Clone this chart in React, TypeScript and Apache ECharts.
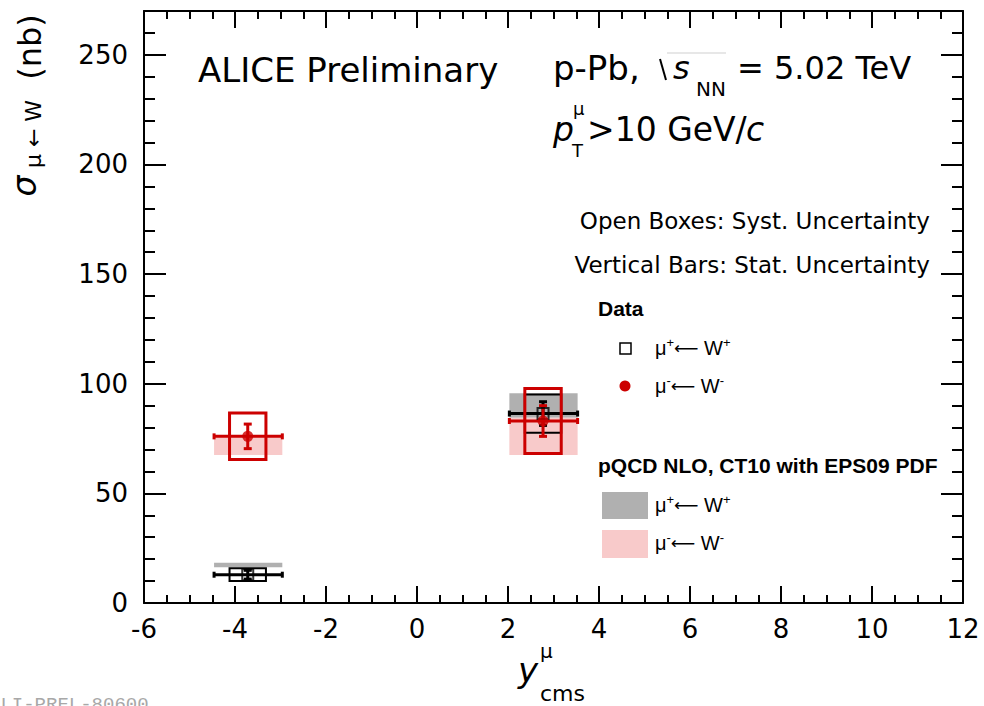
import React, { useEffect, useRef } from "react";
import * as echarts from "echarts";

// ---- data ----
const pointX = [-3.72, 2.77];
const binLow = [-4.46, 2.03];
const binHigh = [-2.96, 3.53];
const muPlusValue = [12.9, 86.4];
const muPlusStat = [2.0, 5.4];
const muPlusSyst = [2.9, 8.7];
const muMinusValue = [76.0, 83.0];
const muMinusStat = [5.6, 7.0];
const muMinusSyst = [10.6, 14.8];
const theoryPlusLow = [16.3, 84.5];
const theoryPlusHigh = [18.4, 95.7];
const theoryMinusLow = [67.5, 67.5];
const theoryMinusHigh = [76.0, 84.5];
const systHalfWidth = [0.4, 0.4];

const X_MIN = -6;
const X_MAX = 12;
const X_STEP = 2;
const Y_MIN = 0;
const Y_MAX = 270;
const Y_STEP = 50;
const Y_MINOR_STEP = 10;

const RED = "#cc0000";
const GRAY_BAND = "#b0b0b0";
const PINK_BAND = "#f8caca";
const MAIN_FONT = "DejaVu Sans";
const LEG_FONT = "Liberation Sans";

const bandRender = (color: string) => (params: any, api: any) => {
  const x0 = api.value(0), x1 = api.value(1), y0 = api.value(2), y1 = api.value(3);
  const p0 = api.coord([x0, y1]);
  const p1 = api.coord([x1, y0]);
  return {
    type: "rect",
    shape: { x: p0[0], y: p0[1], width: p1[0] - p0[0], height: p1[1] - p0[1] },
    style: { fill: color },
  };
};

const boxRender = (color: string, lw: number) => (params: any, api: any) => {
  const x = api.value(0), y = api.value(1), s = api.value(2), hw = api.value(3);
  const p0 = api.coord([x - hw, y + s]);
  const p1 = api.coord([x + hw, y - s]);
  return {
    type: "rect",
    shape: { x: p0[0], y: p0[1], width: p1[0] - p0[0], height: p1[1] - p0[1] },
    style: { fill: "none", stroke: color, lineWidth: lw },
  };
};

const errRender = (color: string) => (params: any, api: any) => {
  const x = api.value(0), y = api.value(1), xl = api.value(2), xh = api.value(3), s = api.value(4);
  const l = api.coord([xl, y]);
  const h = api.coord([xh, y]);
  const t = api.coord([x, y + s]);
  const b = api.coord([x, y - s]);
  const st = { stroke: color, lineWidth: 3 };
  const line = (x1: number, y1: number, x2: number, y2: number) => ({
    type: "line",
    shape: { x1, y1, x2, y2 },
    style: st,
  });
  return {
    type: "group",
    children: [
      line(l[0], l[1], h[0], h[1]),
      line(l[0], l[1] - 3, l[0], l[1] + 3),
      line(h[0], h[1] - 3, h[0], h[1] + 3),
      line(t[0], t[1], b[0], b[1]),
      line(t[0] - 4, t[1], t[0] + 4, t[1]),
      line(b[0] - 4, b[1], b[0] + 4, b[1]),
    ],
  };
};

const axisCommon = {
  type: "value" as const,
  axisLine: { show: true, onZero: false, lineStyle: { color: "#000", width: 2 } },
  splitLine: { show: false },
  minorSplitLine: { show: false },
};

function buildOption() {
  const bandPlus = pointX.map((_, i) => [binLow[i], binHigh[i], theoryPlusLow[i], theoryPlusHigh[i]]);
  const bandMinus = pointX.map((_, i) => [binLow[i], binHigh[i], theoryMinusLow[i], theoryMinusHigh[i]]);
  const boxPlus = pointX.map((x, i) => [x, muPlusValue[i], muPlusSyst[i], systHalfWidth[i]]);
  const boxMinus = pointX.map((x, i) => [x, muMinusValue[i], muMinusSyst[i], systHalfWidth[i]]);
  const errPlus = pointX.map((x, i) => [x, muPlusValue[i], binLow[i], binHigh[i], muPlusStat[i]]);
  const errMinus = pointX.map((x, i) => [x, muMinusValue[i], binLow[i], binHigh[i], muMinusStat[i]]);

  const xTickCfg = {
    axisTick: { show: true, inside: true, length: 17, lineStyle: { color: "#000", width: 2 } },
    minorTick: { show: true, splitNumber: 4, length: 8, lineStyle: { color: "#000", width: 2 } },
  };
  const yMajorTick = { show: true, inside: true, length: 22, lineStyle: { color: "#000", width: 2 } };
  const yMinorTick = { show: true, inside: true, length: 11, lineStyle: { color: "#000", width: 2 } };

  const txt = (
    text: string,
    x: number,
    y: number,
    size: number,
    extra: any = {}
  ) => ({
    type: "text",
    x,
    y,
    style: {
      text,
      fontSize: size,
      fontFamily: MAIN_FONT,
      fill: "#000",
      textVerticalAlign: "middle",
      textAlign: "left",
      ...extra,
    },
  });

  const legRich = {
    m: { fontSize: 20, fontFamily: LEG_FONT, lineHeight: 24, verticalAlign: "middle", fill: "#000" },
    a: { fontSize: 17, fontFamily: MAIN_FONT, lineHeight: 24, verticalAlign: "middle", fill: "#000" },
    s: { fontSize: 13, fontFamily: LEG_FONT, lineHeight: 13, verticalAlign: "top", fill: "#000" },
  };
  const legTxt = (text: string, y: number) => ({
    type: "text",
    x: 655,
    y,
    style: { text, rich: legRich, textVerticalAlign: "middle", textAlign: "left" },
  });

  return {
    animation: false,
    backgroundColor: "#fff",
    grid: { left: 144, right: 21, top: 11, bottom: 103, containLabel: false },
    xAxis: [
      {
        ...axisCommon,
        position: "bottom",
        min: X_MIN,
        max: X_MAX,
        interval: X_STEP,
        ...xTickCfg,
        axisLabel: { show: true, color: "#000", fontSize: 26, fontFamily: MAIN_FONT, margin: 13 },
      },
      {
        ...axisCommon,
        position: "top",
        min: X_MIN,
        max: X_MAX,
        interval: X_STEP,
        ...xTickCfg,
        axisLabel: { show: false },
      },
    ],
    yAxis: [
      {
        ...axisCommon,
        position: "left",
        min: Y_MIN,
        max: Y_MAX,
        interval: Y_STEP,
        axisTick: yMajorTick,
        axisLabel: {
          show: true,
          color: "#000",
          fontSize: 26,
          fontFamily: MAIN_FONT,
          margin: 16,
          showMaxLabel: false,
        },
      },
      {
        ...axisCommon,
        position: "left",
        min: Y_MIN,
        max: Y_MAX,
        interval: Y_MINOR_STEP,
        axisLine: { show: false, onZero: false },
        axisTick: yMinorTick,
        axisLabel: { show: false },
      },
      {
        ...axisCommon,
        position: "right",
        min: Y_MIN,
        max: Y_MAX,
        interval: Y_STEP,
        axisTick: yMajorTick,
        axisLabel: { show: false },
      },
      {
        ...axisCommon,
        position: "right",
        min: Y_MIN,
        max: Y_MAX,
        interval: Y_MINOR_STEP,
        axisLine: { show: false, onZero: false },
        axisTick: yMinorTick,
        axisLabel: { show: false },
      },
    ],
    series: [
      {
        type: "custom",
        name: "theory mu+",
        renderItem: bandRender(GRAY_BAND),
        data: bandPlus,
        encode: { x: [0, 1], y: [2, 3] },
        z: 1,
        silent: true,
      },
      {
        type: "custom",
        name: "theory mu-",
        renderItem: bandRender(PINK_BAND),
        data: bandMinus,
        encode: { x: [0, 1], y: [2, 3] },
        z: 2,
        silent: true,
      },
      {
        type: "custom",
        name: "syst mu+",
        renderItem: boxRender("#000", 2),
        data: boxPlus,
        encode: { x: 0, y: 1 },
        z: 3,
        silent: true,
      },
      {
        type: "custom",
        name: "stat mu+",
        renderItem: errRender("#000"),
        data: errPlus,
        encode: { x: 0, y: 1 },
        z: 4,
        silent: true,
      },
      {
        type: "custom",
        name: "syst mu-",
        renderItem: boxRender(RED, 3),
        data: boxMinus,
        encode: { x: 0, y: 1 },
        z: 5,
        silent: true,
      },
      {
        type: "custom",
        name: "stat mu-",
        renderItem: errRender(RED),
        data: errMinus,
        encode: { x: 0, y: 1 },
        z: 6,
        silent: true,
      },
      {
        type: "scatter",
        name: "mu+ <- W+",
        data: pointX.map((x, i) => [x, muPlusValue[i]]),
        symbol: "rect",
        symbolSize: 11,
        itemStyle: { color: "rgba(0,0,0,0)", borderColor: "#000", borderWidth: 2 },
        z: 7,
        silent: true,
      },
      {
        type: "scatter",
        name: "mu- <- W-",
        data: pointX.map((x, i) => [x, muMinusValue[i]]),
        symbol: "circle",
        symbolSize: 11,
        itemStyle: { color: RED },
        z: 8,
        silent: true,
      },
    ],
    graphic: [
      // header texts
      txt("ALICE Preliminary", 198, 70, 34),
      txt("p-Pb,", 553, 68, 34),
      { type: "polyline", shape: { points: [[660, 59], [666, 80]] }, style: { stroke: "#000", lineWidth: 2, fill: "none" } },
      { type: "line", shape: { x1: 667, y1: 53, x2: 726, y2: 53 }, style: { stroke: "#cfcfcf", lineWidth: 1 } },
      txt("s", 673, 68, 32, { fontStyle: "italic" }),
      txt("NN", 696, 89, 20),
      txt("= 5.02 TeV", 737, 68, 32),
      txt("p", 553, 129, 33, { fontStyle: "italic" }),
      txt("μ", 573, 108, 18),
      txt("T", 572, 150, 18),
      txt(">10 GeV/", 587, 129, 33),
      txt("c", 746, 129, 33, { fontStyle: "italic" }),
      txt("Open Boxes: Syst. Uncertainty", 930, 221, 23, { textAlign: "right" }),
      txt("Vertical Bars: Stat. Uncertainty", 930, 265, 23, { textAlign: "right" }),
      // legend
      txt("Data", 598, 308, 21, { fontFamily: LEG_FONT, fontWeight: "bold" }),
      {
        type: "rect",
        shape: { x: 620, y: 343, width: 11, height: 11 },
        style: { fill: "none", stroke: "#000", lineWidth: 1.5 },
      },
      legTxt("{m|μ}{s|+}{a|⟵}{m| W}{s|+}", 348),
      { type: "circle", shape: { cx: 625, cy: 386, r: 5.5 }, style: { fill: RED } },
      legTxt("{m|μ}{s|-}{a|⟵}{m| W}{s|-}", 386),
      txt("pQCD NLO, CT10 with EPS09 PDF", 598, 465, 21, { fontFamily: LEG_FONT, fontWeight: "bold" }),
      { type: "rect", shape: { x: 602, y: 492, width: 46, height: 27 }, style: { fill: GRAY_BAND } },
      legTxt("{m|μ}{s|+}{a|⟵}{m| W}{s|+}", 505),
      { type: "rect", shape: { x: 602, y: 530, width: 46, height: 28 }, style: { fill: PINK_BAND } },
      legTxt("{m|μ}{s|-}{a|⟵}{m| W}{s|-}", 543),
      // y axis title (rotated)
      {
        type: "text",
        x: 24,
        y: 186,
        rotation: Math.PI / 2,
        style: { text: "σ", fontSize: 33, fontStyle: "italic", fontFamily: MAIN_FONT, fill: "#000", textAlign: "center", textVerticalAlign: "middle" },
      },
      {
        type: "text",
        x: 33,
        y: 134,
        rotation: Math.PI / 2,
        style: { text: "μ ← W", fontSize: 22, fontFamily: MAIN_FONT, fill: "#000", textAlign: "center", textVerticalAlign: "middle" },
      },
      {
        type: "text",
        x: 30,
        y: 47,
        rotation: Math.PI / 2,
        style: { text: "(nb)", fontSize: 32, fontFamily: MAIN_FONT, fill: "#000", textAlign: "center", textVerticalAlign: "middle" },
      },
      // x axis title
      txt("y", 518, 670, 34, { fontStyle: "italic" }),
      txt("μ", 540, 651, 20),
      txt("cms", 540, 693, 22),
      // preliminary id (cut at the bottom edge, as in the reference)
      {
        type: "text",
        x: -11,
        y: 695,
        style: { text: "ALI-PREL-80600", fontSize: 19, fontFamily: "Liberation Mono", fill: "#a8a8a8", textAlign: "left", textVerticalAlign: "top" },
      },
    ],
  };
}

export default function App() {
  const ref = useRef<HTMLDivElement>(null);
  useEffect(() => {
    if (!ref.current) return;
    const chart = echarts.init(ref.current, null, { renderer: "svg" });
    chart.setOption(buildOption() as any);
    return () => chart.dispose();
  }, []);
  return (
    <div
      ref={ref}
      style={{ position: "fixed", left: 0, top: 0, width: 984, height: 706, background: "#fff" }}
    />
  );
}
